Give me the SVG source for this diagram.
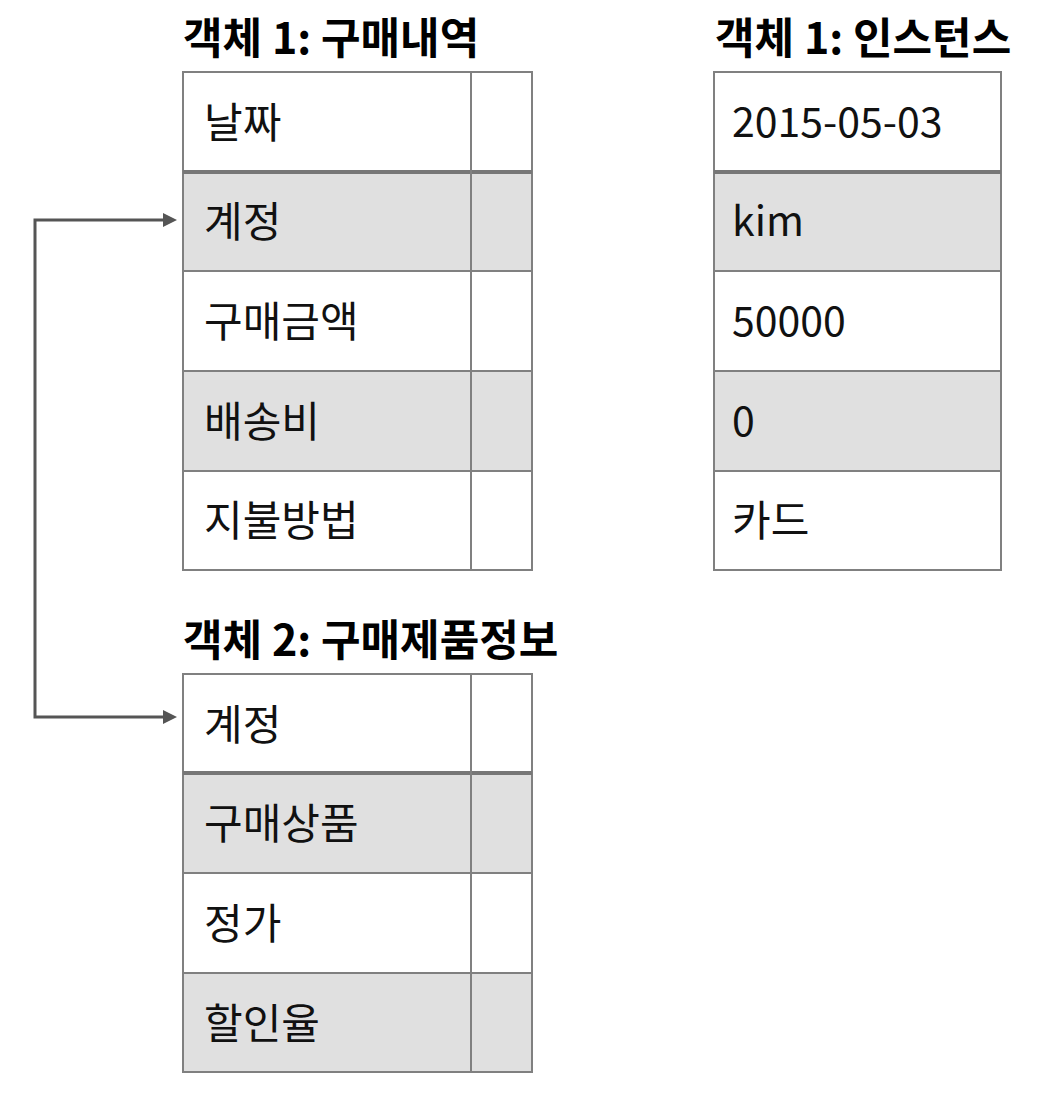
<svg xmlns="http://www.w3.org/2000/svg" width="1049" height="1094" viewBox="0 0 1049 1094">
<style>
.bg{fill:#ffffff}
.w{fill:#ffffff;stroke:#808080;stroke-width:2}
.g{fill:#e0e0e0;stroke:#808080;stroke-width:2}
.sep{stroke:#777777;stroke-width:4}
.col{stroke:#808080;stroke-width:2}
.t{font-family:"Noto Sans CJK KR","Noto Sans",sans-serif;font-size:42px;fill:#111111}
.n{font-size:41px}
.h{font-family:"Noto Sans CJK KR","Noto Sans",sans-serif;font-size:43px;font-weight:bold;fill:#000000}
.conn{fill:none;stroke:#555555;stroke-width:3}
</style>
<defs>
<marker id="ah" viewBox="0 0 14 14" refX="0" refY="7" markerWidth="14" markerHeight="14" markerUnits="userSpaceOnUse" orient="auto-start-reverse">
<path d="M0,0 L14,7 L0,14 Z" fill="#555555"/>
</marker>
</defs>
<rect class="bg" x="0" y="0" width="1049" height="1094"/>

<g id="obj1">
<text class="h" x="183" y="54">객체 1: 구매내역</text>
<rect class="w" x="183" y="72" width="349" height="100"/>
<rect class="g" x="183" y="172" width="349" height="99"/>
<rect class="w" x="183" y="271" width="349" height="100"/>
<rect class="g" x="183" y="371" width="349" height="100"/>
<rect class="w" x="183" y="471" width="349" height="99"/>
<line class="sep" x1="183" y1="172" x2="532" y2="172"/>
<line class="col" x1="471" y1="72" x2="471" y2="570"/>
<text class="t" x="204" y="138">날짜</text>
<text class="t" x="204" y="237">계정</text>
<text class="t" x="204" y="337">구매금액</text>
<text class="t" x="204" y="437">배송비</text>
<text class="t" x="204" y="536">지불방법</text>
</g>

<g id="inst1">
<text class="h" x="715" y="54">객체 1: 인스턴스</text>
<rect class="w" x="714" y="72" width="287" height="100"/>
<rect class="g" x="714" y="172" width="287" height="99"/>
<rect class="w" x="714" y="271" width="287" height="100"/>
<rect class="g" x="714" y="371" width="287" height="100"/>
<rect class="w" x="714" y="471" width="287" height="99"/>
<line class="sep" x1="714" y1="172" x2="1001" y2="172"/>
<text class="t n" x="732" y="137">2015-05-03</text>
<text class="t n" x="732" y="236">kim</text>
<text class="t n" x="732" y="336">50000</text>
<text class="t n" x="732" y="436">0</text>
<text class="t" x="732" y="536">카드</text>
</g>

<g id="obj2">
<text class="h" x="183" y="656">객체 2: 구매제품정보</text>
<rect class="w" x="183" y="674" width="349" height="99"/>
<rect class="g" x="183" y="773" width="349" height="100"/>
<rect class="w" x="183" y="873" width="349" height="100"/>
<rect class="g" x="183" y="973" width="349" height="99"/>
<line class="sep" x1="183" y1="773" x2="532" y2="773"/>
<line class="col" x1="471" y1="674" x2="471" y2="1072"/>
<text class="t" x="204" y="740">계정</text>
<text class="t" x="204" y="839">구매상품</text>
<text class="t" x="204" y="939">정가</text>
<text class="t" x="204" y="1039">할인율</text>
</g>

<g id="connectors">
<path class="conn" d="M163,220 H35 V717 H163" marker-start="url(#ah)" marker-end="url(#ah)"/>
</g>
</svg>
